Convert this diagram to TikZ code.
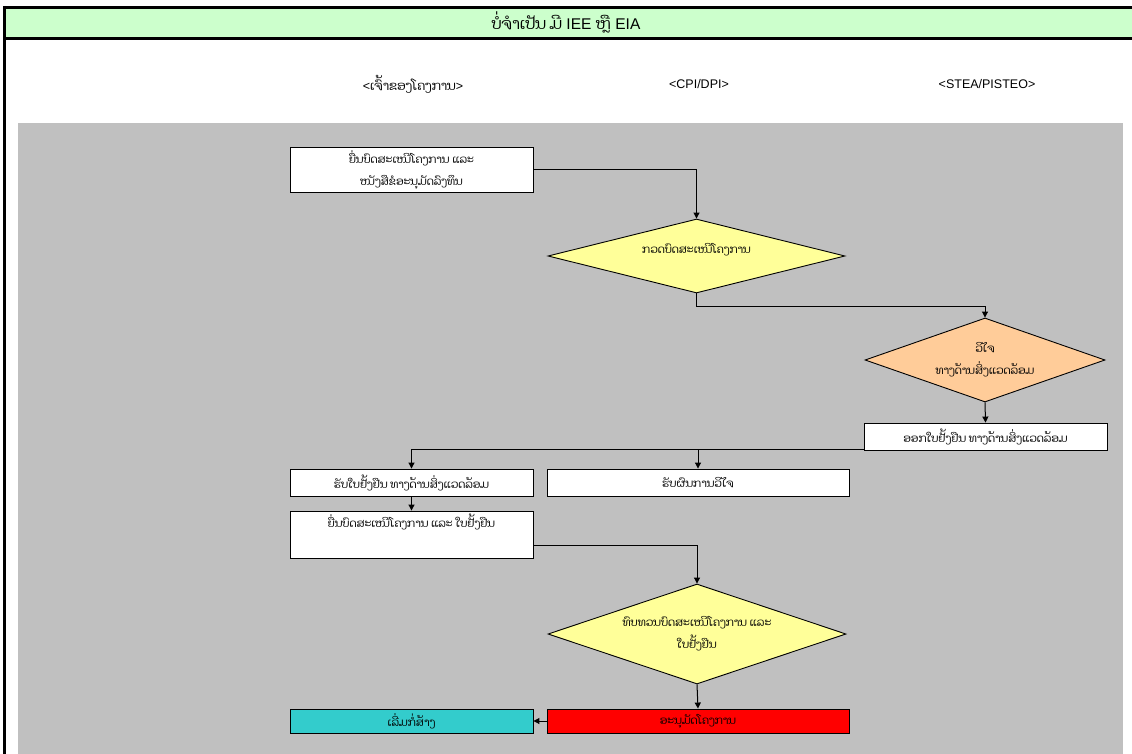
\documentclass[tikz,border=0pt]{standalone}
\usepackage{fontspec}
\setmainfont{Liberation Sans}
\newfontfamily\lao[Script=Lao]{Dhyana}
\usetikzlibrary{shapes.geometric,arrows.meta}

\definecolor{titlegreen}{HTML}{CCFFCC}
\definecolor{lanegray}{HTML}{C0C0C0}
\definecolor{decyellow}{HTML}{FFFF99}
\definecolor{decorange}{HTML}{FFCC99}
\definecolor{okred}{HTML}{FF0000}
\definecolor{startcyan}{HTML}{33CCCC}

\begin{document}
\begin{tikzpicture}[x=1pt,y=-1pt,
  laotext/.style={font=\lao\fontsize{11}{22}\selectfont},
  box/.style={draw, line width=0.9pt, fill=white, minimum width=243pt,
    minimum height=27pt, inner sep=0pt, align=center, laotext},
  dia/.style={diamond, draw, line width=0.9pt, inner sep=0pt, aspect=3,
    align=center, laotext},
  flow/.style={line width=1pt, -{Triangle[length=6pt,width=6pt]}},
  head/.style={font=\fontsize{12.5}{14}\selectfont}
]
\useasboundingbox (0,0) rectangle (1132,754);

% frame and title band
\fill[titlegreen] (5,7) rectangle (1132,40);
\draw[line width=3pt] (3.5,7.5) -- (1132,7.5);
\draw[line width=3pt] (3.5,39) -- (1132,39);
\draw[line width=3pt] (4.5,6) -- (4.5,754);
\node[font=\fontsize{15.5}{17}\selectfont] (title) at (566,22)
  {{\lao ບໍ່ຈຳເປັນ ມີ} IEE {\lao ຫຼື} EIA};

% lane headers
\node[head] (h1) at (413,84) {<{\lao ເຈົ້າຂອງໂຄງການ}>};
\node[head] (h2) at (699,84) {<CPI/DPI>};
\node[head] (h3) at (987,84) {<STEA/PISTEO>};

% process area
\fill[lanegray] (18,123) rectangle (1123,754);

% steps
\node[box, minimum height=45pt] (b1) at (411.5,169.5)
  {ຍື່ນບົດສະເໜີໂຄງການ ແລະ\\ໜັງສືຂໍອະນຸມັດລົງທຶນ};
\node[dia, fill=decyellow, minimum width=297pt, minimum height=74pt] (d1)
  at (696.5,256) {ກວດບົດສະເໜີໂຄງການ\\[-6pt]};
\node[dia, fill=decorange, minimum width=240pt, minimum height=84pt] (d2)
  at (985,360) {ວິໄຈ\\ທາງດ້ານສິ່ງແວດລ້ອມ};
\node[box] (b2) at (985.5,436.5) {ອອກໃບຢັ້ງຢືນ ທາງດ້ານສິ່ງແວດລ້ອມ};
\node[box] (b3) at (411.5,482.5) {ຮັບໃບຢັ້ງຢືນ ທາງດ້ານສິ່ງແວດລ້ອມ};
\node[box, minimum width=302pt] (b4) at (698,482.5) {ຮັບຜົນການວິໄຈ};
\node[box, minimum height=47pt,
  label={[laotext, anchor=north, inner sep=0pt, yshift=-3pt]north:ຍື່ນບົດສະເໜີໂຄງການ ແລະ ໃບຢັ້ງຢືນ}]
  (b5) at (411.5,534.5) {};
\node[dia, fill=decyellow, minimum width=298pt, minimum height=100pt] (d3)
  at (697,634) {ທົບທວນບົດສະເໜີໂຄງການ ແລະ\\ໃບຢັ້ງຢືນ};
\node[box, fill=okred, minimum width=302pt, minimum height=24pt] (b6)
  at (698,721) {ອະນຸມັດໂຄງການ};
\node[box, fill=startcyan, minimum height=24pt] (b7)
  at (411.5,721) {ເລີ່ມກໍ່ສ້າງ};

% connectors
\coordinate (split) at ([yshift=1pt]b2.south west);
\draw[flow] (b1.east) -| (d1.north);
\draw[flow] (d1.south) -- ++(0,13) -| (d2.north);
\draw[flow] (d2.south) -- (b2.north);
\draw[flow] (split) -| (b3.north);
\draw[flow] (split) -| (b4.north);
\draw[flow] (b3.south) -- (b5.north);
\draw[flow] ([yshift=-10.5pt]b5.east) -| (d3.north);
\draw[flow] (d3.south) -- (b6.north);
\draw[flow] (b6.west) -- (b7.east);
\end{tikzpicture}
\end{document}
